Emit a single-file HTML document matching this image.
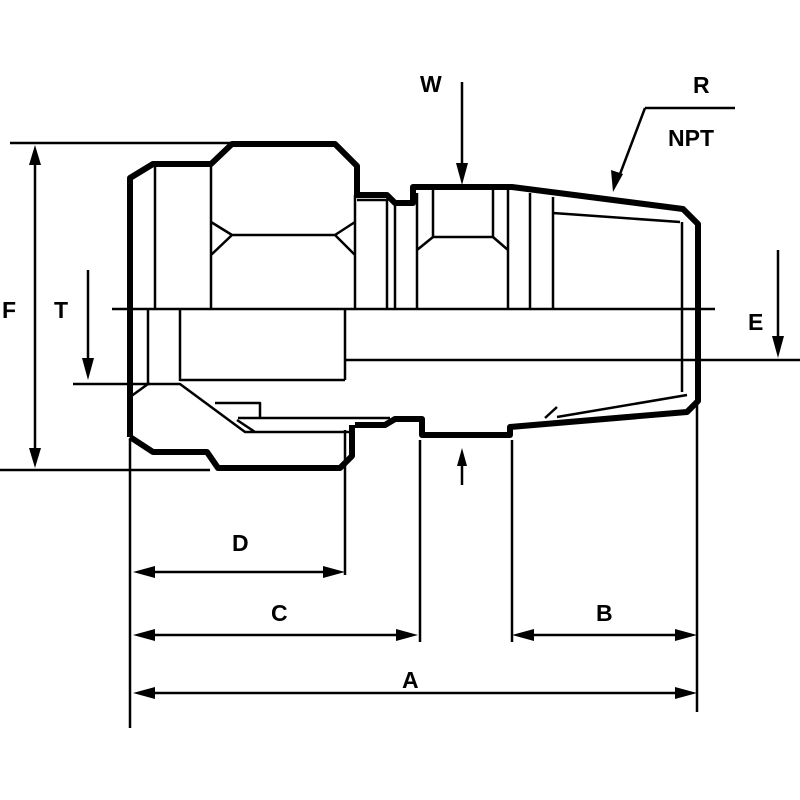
<!DOCTYPE html>
<html><head><meta charset="utf-8"><style>
html,body{margin:0;padding:0;background:#fff;width:800px;height:800px;overflow:hidden}
svg{display:block}
text{font-family:"Liberation Sans",sans-serif;font-weight:bold;font-size:23px;fill:#000}
</style></head><body>
<svg width="800" height="800" viewBox="0 0 800 800" xmlns="http://www.w3.org/2000/svg">
<g fill="none" stroke="#000" stroke-linejoin="round">
<path stroke-width="6" d="M130,437 L130,178 L153,164 L211,164 L232,144 L335,144 L357,166 L357,195 L387,195 L395,203 L413,203 L413,187 L512,187 L683,209 L698,224 L698,401 L687,412 L510,427 L510,435 L422,435 L422,419 L395,419 L385,425 L355,425"/>
<path stroke-width="6" d="M130,437 L153,452 L207,452 L218,468 L340,468 L352,456 L352,425"/>
<path stroke-width="2.5" d="M155,164 L155,309 M211,164 L211,309 M355,195 L355,309 M232,235 L335,235 M211,222 L232,235 L211,255 M355,222 L335,235 L355,255"/>
<path stroke-width="2.5" d="M112,309 L715,309 M345,360 L800,360 M73,384 L150,384"/>
<path stroke-width="2.5" d="M148,309 L148,384 M180,309 L180,381 M345,309 L345,380 M180,380 L345,380 M130,397 L148,384 L180,384 L245,432 L350,432 M215,403 L260,403 L260,418 M238,418 L390,418 M237,420 L255,432"/>
<path stroke-width="2.5" d="M387,199 L387,309 M395,203 L395,309 M357,200 L387,200 M417,193 L417,309 M433,190 L433,237 M493,190 L493,237 M508,190 L508,309 M530,193 L530,309 M553,197 L553,309 M433,237 L493,237 M417,250 L433,237 M493,237 L508,250 M553,213 L680,222 M682,222 L682,392 M557,417 L687,395 M545,418 L557,407"/>
<path stroke-width="2.5" d="M10,143 L232,143 M0,470 L210,470 M130,440 L130,728 M345,430 L345,575 M420,440 L420,642 M512,440 L512,642 M697,402 L697,712"/>
<path stroke-width="2.5" d="M35,150 L35,463 M88,270 L88,372 M778,250 L778,350 M462,82 L462,178 M462,485 L462,455 M645,108 L735,108 M645,108 L617,182 M140,572 L338,572 M140,635 L412,635 M518,635 L690,635 M140,693 L690,693"/>
</g>
<g fill="#000">
<polygon points="35,145 29,165 41,165"/><polygon points="35,468 29,448 41,448"/>
<polygon points="88,380 82,358 94,358"/>
<polygon points="778,358 772,336 784,336"/>
<polygon points="462,185 456,163 468,163"/>
<polygon points="462,448 457,466 467,466"/>
<polygon points="613,192 611,170 623,174"/>
<polygon points="133,572 155,566 155,578"/><polygon points="345,572 323,566 323,578"/>
<polygon points="133,635 155,629 155,641"/><polygon points="418,635 396,629 396,641"/>
<polygon points="512,635 534,629 534,641"/><polygon points="697,635 675,629 675,641"/>
<polygon points="133,693 155,687 155,699"/><polygon points="697,693 675,687 675,699"/>
</g>
<text x="2" y="318">F</text>
<text x="54" y="318">T</text>
<text x="748" y="330">E</text>
<text x="420" y="92">W</text>
<text x="693" y="93">R</text>
<text x="668" y="146">NPT</text>
<text x="232" y="551">D</text>
<text x="271" y="621">C</text>
<text x="596" y="621">B</text>
<text x="402" y="688">A</text>
</svg>
</body></html>
